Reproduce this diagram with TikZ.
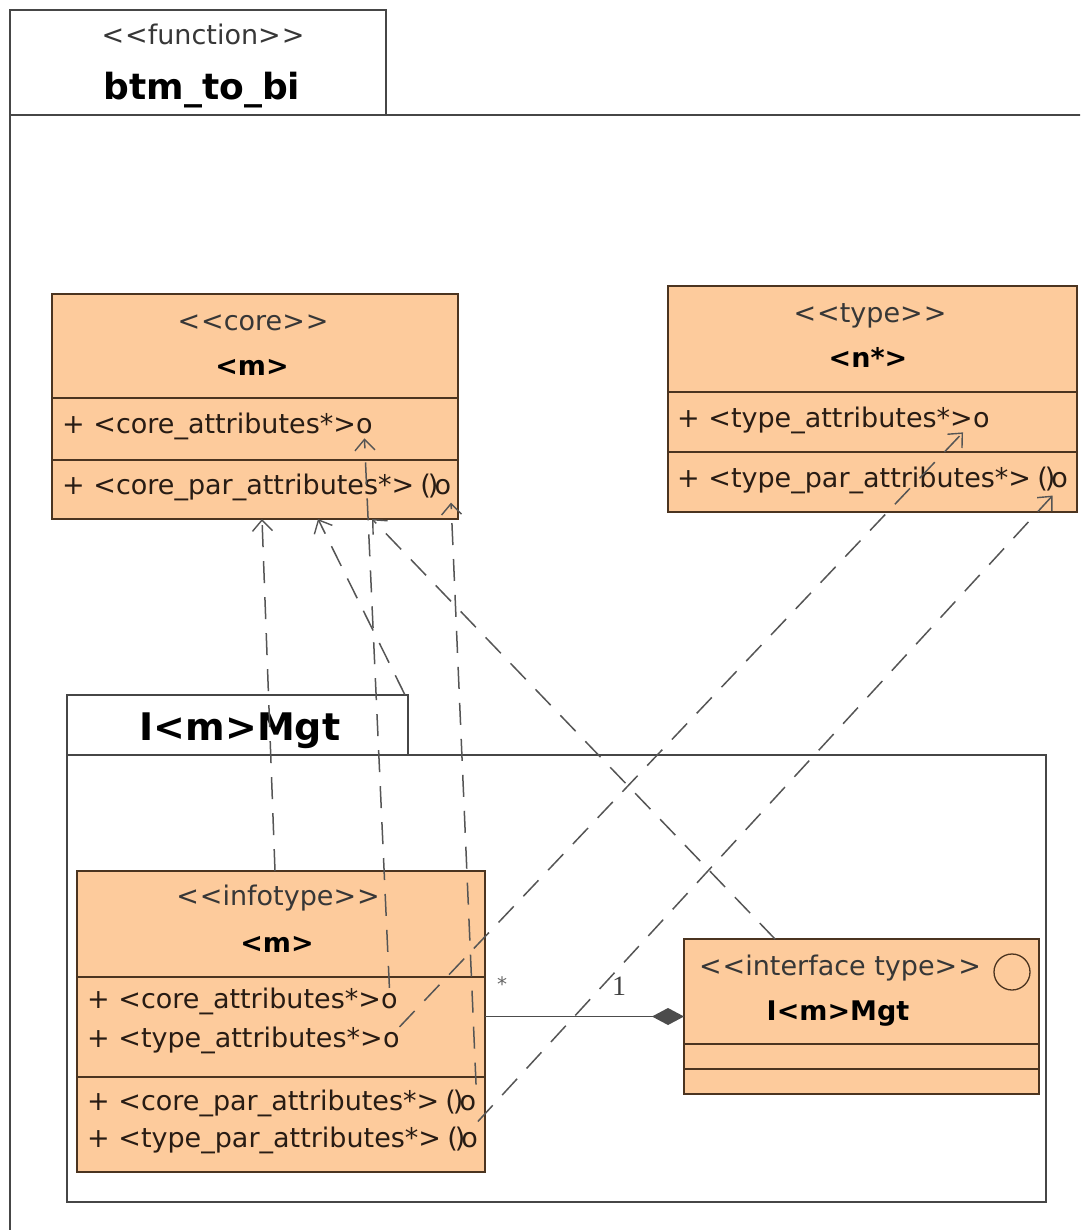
\documentclass[tikz,border=0pt]{standalone}
\usepackage{fontspec}
\setmainfont{DejaVu Sans}
\newfontfamily\serifnum{Liberation Serif}
\usetikzlibrary{arrows.meta}
\definecolor{peach}{RGB}{253,203,156}
\definecolor{clsline}{RGB}{75,52,32}
\definecolor{frameline}{RGB}{70,70,70}
\definecolor{depgray}{RGB}{85,85,85}
\definecolor{txt}{RGB}{40,28,20}
\definecolor{stereocol}{RGB}{55,55,55}
\newcommand\stt[1]{<\kern1pt<#1>\kern1pt>}
\newcommand\sockport{(\kern-3pt)\kern-4pt o}
\begin{document}
\begin{tikzpicture}[x=1pt,y=-1pt,
  frame/.style={draw=frameline,line width=1.4pt,anchor=north west,inner sep=0pt,outer sep=0pt},
  classbox/.style={draw=clsline,line width=1.4pt,fill=peach,anchor=north west,inner sep=0pt,outer sep=0pt},
  divider/.style={draw=clsline,line width=1.3pt},
  stereotxt/.style={font=\fontsize{27}{30}\selectfont,text=stereocol,anchor=base,inner sep=0pt},
  nametxt/.style={font=\fontsize{27}{30}\selectfont\bfseries,text=black,anchor=base,inner sep=0pt},
  attrtxt/.style={font=\fontsize{27}{30}\selectfont,text=txt,anchor=base west,inner sep=0pt},
  porttxt/.style={font=\fontsize{27}{30}\selectfont,text=txt,anchor=base west,inner sep=0pt,outer xsep=0pt,outer ysep=5pt},
  dep/.style={draw=depgray,line width=1.5pt,dash pattern=on 22pt off 14pt,
    -{Straight Barb[length=11pt,width=20pt,line width=1.4pt]}},
]
\useasboundingbox (0,0) rectangle (1080,1230);
\fill[white] (0,0) rectangle (1080,1230);
\clip (0,0) rectangle (1080,1230);

% function package
\node[frame,minimum width=376pt,minimum height=105pt] (ftab) at (10,10) {};
\node[frame,minimum width=1100pt,minimum height=1150pt] (fbody) at (10,115) {};
\node[stereotxt] (fster) at (203,45) {\stt{function}};
\node[nametxt,font=\fontsize{36}{40}\selectfont\bfseries] (fname) at (202,100) {btm\_to\_bi};

% core class
\node[classbox,minimum width=406pt,minimum height=225pt] (core) at (52,294) {};
\draw[divider] (52,398) -- (458,398);
\draw[divider] (52,460) -- (458,460);
\node[stereotxt] (coreSt) at (253,330) {\stt{core}};
\node[nametxt] (coreNm) at (252,375) {<m>};
\node[attrtxt] (coreA1) at (62,433) {+ <core\_attributes*>};
\node[porttxt] (coreP1) at (coreA1.base east) {o};
\node[attrtxt] (coreA2) at (62,494) {+ <core\_par\_attributes*>};
\node[porttxt] (coreP2) at ([xshift=6pt]coreA2.base east) {\sockport};

% type class
\node[classbox,minimum width=409pt,minimum height=226pt] (type) at (668,286) {};
\draw[divider] (668,392) -- (1077,392);
\draw[divider] (668,452) -- (1077,452);
\node[stereotxt] (typeSt) at (870,322) {\stt{type}};
\node[nametxt] (typeNm) at (868,367) {<n*>};
\node[attrtxt] (typeA1) at (677,427) {+ <type\_attributes*>};
\node[porttxt] (typeP1) at (typeA1.base east) {o};
\node[attrtxt] (typeA2) at (677,487) {+ <type\_par\_attributes*>};
\node[porttxt] (typeP2) at ([xshift=6pt]typeA2.base east) {\sockport};

% I<m>Mgt package
\node[frame,minimum width=341pt,minimum height=60pt] (ptab) at (67,695) {};
\node[frame,minimum width=979pt,minimum height=447pt] (pbody) at (67,755) {};
\node[nametxt,font=\fontsize{38}{42}\selectfont\bfseries] (pname) at (240,740) {I<m>Mgt};

% infotype class
\node[classbox,minimum width=408pt,minimum height=301pt] (info) at (77,871) {};
\draw[divider] (77,977) -- (485,977);
\draw[divider] (77,1077) -- (485,1077);
\node[stereotxt] (infoSt) at (278,905) {\stt{infotype}};
\node[nametxt] (infoNm) at (277,952) {<m>};
\node[attrtxt] (infoA1) at (87,1008) {+ <core\_attributes*>};
\node[porttxt] (infoP1) at (infoA1.base east) {o};
\node[attrtxt] (infoA2) at (87,1047) {+ <type\_attributes*>};
\node[porttxt] (infoP2) at (infoA2.base east) {o};
\node[attrtxt] (infoA3) at (87,1110) {+ <core\_par\_attributes*>};
\node[porttxt] (infoP3) at ([xshift=6pt]infoA3.base east) {\sockport};
\node[attrtxt] (infoA4) at (87,1147) {+ <type\_par\_attributes*>};
\node[porttxt] (infoP4) at ([xshift=6pt]infoA4.base east) {\sockport};

% interface class
\node[classbox,minimum width=355pt,minimum height=155pt] (iface) at (684,939) {};
\draw[divider] (684,1044) -- (1039,1044);
\draw[divider] (684,1069) -- (1039,1069);
\node[stereotxt] (ifaceSt) at (840,975) {\stt{interface type}};
\node[draw=clsline,line width=1.3pt,circle,minimum size=36pt,inner sep=0pt] (ifaceCirc) at (1012,972) {};
\node[nametxt] (ifaceNm) at (838,1020) {I<m>Mgt};

% composition
\draw[draw=black!70,line width=1.5pt,-{Diamond[length=32pt,width=17pt,fill=black!70]}]
  (iface.west -| info.east) -- (iface.west);
\node[font=\fontsize{20}{20}\selectfont,text=black!60] (multStar) at (502,984) {*};
\node[font=\serifnum\fontsize{28}{28}\selectfont,text=black!75] (multOne) at (619,986) {1};

% dependencies
\coordinate (aFrom) at (275,871);
\coordinate (aTo) at (262,519);
\coordinate (bFrom) at (405,695);
\coordinate (bTo) at (318,519);
\coordinate (dFrom) at (775,939);
\coordinate (dTo) at (372,519);
\draw[dep] (aFrom) -- (aTo);
\draw[dep] (bFrom) -- (bTo);
\draw[dep] (dFrom) -- (dTo);
\draw[dep] (infoP1.north) -- (coreP1.south);
\draw[dep] (infoP3.north east) -- (coreP2.south east);
\draw[dep] (infoP2.north east) -- ([xshift=-10pt]typeP1.south west);
\draw[dep] (infoP4.north east) -- (typeP2.south);
\end{tikzpicture}
\end{document}
